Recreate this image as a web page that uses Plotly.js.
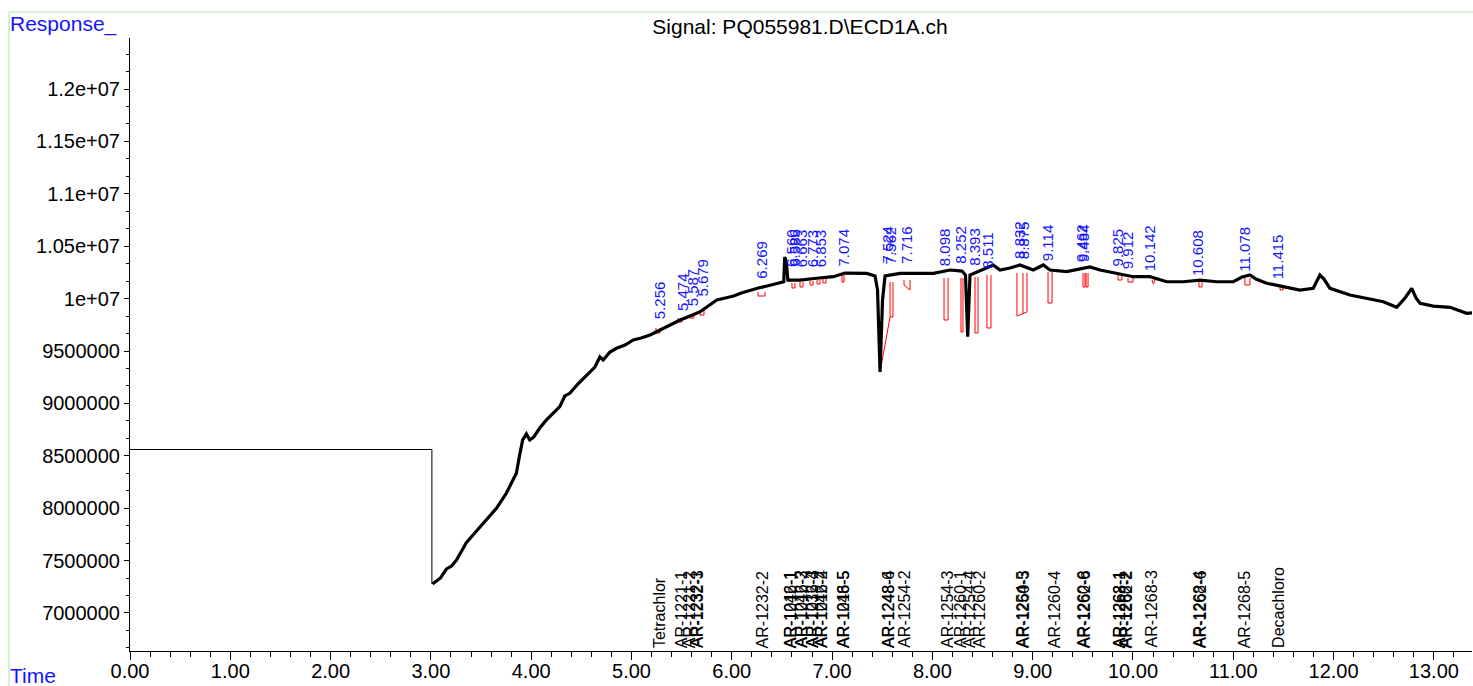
<!DOCTYPE html>
<html>
<head>
<meta charset="utf-8">
<script src="https://cdn.plot.ly/plotly-3.0.1.min.js"></script>
<style>
  html, body { margin: 0; padding: 0; background: #fff; }
  #chart { width: 1473px; height: 686px; }
</style>
</head>
<body>
<div id="chart"></div>
<script>
// ECD detector trace (retention time in minutes, response counts)
const signalTime = [0, 3.01, 3.016, 3.046, 3.096, 3.156, 3.206, 3.256, 3.353, 3.446, 3.553, 3.656, 3.752, 3.805,
  3.852, 3.885, 3.915, 3.952, 3.985, 4.025, 4.085, 4.152, 4.215, 4.285, 4.335, 4.385, 4.465, 4.552, 4.635,
  4.685, 4.718, 4.785, 4.851, 4.935, 5.018, 5.095, 5.185, 5.285, 5.385, 5.485, 5.585, 5.685, 5.765, 5.851,
  5.935, 6.018, 6.095, 6.185, 6.265, 6.352, 6.435, 6.518, 6.528, 6.544, 6.559, 6.68, 6.847, 7.013, 7.128,
  7.212, 7.345, 7.428, 7.453, 7.478, 7.503, 7.528, 7.677, 7.844, 8.01, 8.176, 8.295, 8.33, 8.352, 8.375,
  8.507, 8.607, 8.674, 8.773, 8.873, 9.006, 9.106, 9.172, 9.339, 9.505, 9.571, 9.671, 9.838, 10.004, 10.17,
  10.336, 10.502, 10.668, 10.835, 11.0, 11.087, 11.166, 11.226, 11.333, 11.498, 11.664, 11.797, 11.864,
  11.904, 11.964, 12.163, 12.33, 12.496, 12.629, 12.712, 12.779, 12.822, 12.862, 12.995, 13.161, 13.328, 13.38];
const signalResp = [8.560e6, 8.560e6, 7.277e6, 7.296e6, 7.334e6, 7.420e6, 7.448e6, 7.506e6, 7.671e6, 7.773e6,
  7.887e6, 8.002e6, 8.142e6, 8.240e6, 8.333e6, 8.508e6, 8.651e6, 8.708e6, 8.651e6, 8.679e6, 8.765e6, 8.842e6,
  8.899e6, 8.969e6, 9.071e6, 9.096e6, 9.185e6, 9.271e6, 9.347e6, 9.443e6, 9.414e6, 9.490e6, 9.526e6, 9.557e6,
  9.605e6, 9.624e6, 9.653e6, 9.700e6, 9.748e6, 9.796e6, 9.834e6, 9.875e6, 9.929e6, 9.987e6, 10.006e6,
  10.025e6, 10.053e6, 10.082e6, 10.101e6, 10.120e6, 10.139e6, 10.161e6, 10.397e6, 10.349e6, 10.177e6,
  10.177e6, 10.194e6, 10.209e6, 10.244e6, 10.241e6, 10.241e6, 10.216e6, 10.082e6, 9.300e6, 9.987e6,
  10.216e6, 10.241e6, 10.241e6, 10.241e6, 10.273e6, 10.263e6, 10.225e6, 9.636e6, 10.225e6, 10.280e6,
  10.321e6, 10.273e6, 10.292e6, 10.321e6, 10.273e6, 10.321e6, 10.273e6, 10.257e6, 10.289e6, 10.302e6,
  10.273e6, 10.241e6, 10.209e6, 10.209e6, 10.161e6, 10.161e6, 10.177e6, 10.161e6, 10.161e6, 10.206e6,
  10.225e6, 10.187e6, 10.146e6, 10.114e6, 10.082e6, 10.098e6, 10.225e6, 10.187e6, 10.098e6, 10.034e6,
  10.003e6, 9.970e6, 9.917e6, 10.006e6, 10.098e6, 10.006e6, 9.955e6, 9.929e6, 9.917e6, 9.860e6, 9.863e6];

// Integration baseline / drop-line events (null separates events)
const markTime = [
  5.244, 5.244, 5.284, 5.284, null,
  5.464, 5.464, 5.504, 5.504, null,
  5.583, 5.583, 5.623, 5.623, null,
  5.683, 5.683, 5.723, 5.723, null,
  6.261, 6.261, 6.331, 6.331, null,
  6.600, 6.600, 6.630, 6.630, null,
  6.680, 6.680, 6.710, 6.710, null,
  6.780, 6.780, 6.810, 6.810, null,
  6.850, 6.850, 6.879, 6.879, null,
  6.909, 6.909, 6.939, 6.939, null,
  7.099, 7.099, 7.119, 7.119, null,
  7.478, 7.578, 7.578, null, 7.607, 7.607, 7.578, null,
  7.717, 7.717, 7.777, 7.777, null,
  8.116, 8.116, 8.156, 8.156, null,
  8.285, 8.285, 8.305, 8.305, null,
  8.425, 8.425, 8.455, 8.455, null,
  8.544, 8.544, 8.584, 8.584, null,
  8.843, 8.843, 8.943, 8.943, null, 8.903, 8.903, null,
  9.153, 9.153, 9.193, 9.193, null,
  9.502, 9.502, 9.522, 9.522, null, 9.532, 9.532, 9.552, 9.552, null,
  9.851, 9.851, 9.890, 9.890, null,
  9.950, 9.950, 10.000, 10.000, null,
  10.189, 10.204, 10.219, null,
  10.658, 10.658, 10.688, 10.688, null,
  11.116, 11.116, 11.166, 11.166, null,
  11.466, 11.466, 11.496, 11.496];
const markResp = [
  9.7194e6, 9.6717e6, 9.6717e6, 9.7194e6, null,
  9.8148e6, 9.7767e6, 9.7767e6, 9.8148e6, null,
  9.8530e6, 9.8148e6, 9.8148e6, 9.8530e6, null,
  9.8912e6, 9.8434e6, 9.8434e6, 9.8912e6, null,
  10.0629e6, 10.0248e6, 10.0248e6, 10.0629e6, null,
  10.1489e6, 10.1011e6, 10.1011e6, 10.1489e6, null,
  10.1584e6, 10.1107e6, 10.1107e6, 10.1584e6, null,
  10.1679e6, 10.1298e6, 10.1298e6, 10.1679e6, null,
  10.1775e6, 10.1393e6, 10.1393e6, 10.1775e6, null,
  10.1870e6, 10.1489e6, 10.1489e6, 10.1870e6, null,
  10.2252e6, 10.1584e6, 10.1584e6, 10.2252e6, null,
  9.2996e6, 9.8243e6, 10.1584e6, null, 10.1584e6, 9.8243e6, 9.8243e6, null,
  10.1775e6, 10.1298e6, 10.0820e6, 10.1775e6, null,
  10.1966e6, 9.7957e6, 9.7957e6, 10.1966e6, null,
  10.1966e6, 9.6813e6, 9.6813e6, 10.1966e6, null,
  10.2061e6, 9.6717e6, 9.6717e6, 10.2061e6, null,
  10.2252e6, 9.7194e6, 9.7194e6, 10.2252e6, null,
  10.2443e6, 9.8339e6, 9.8721e6, 10.2443e6, null, 10.2443e6, 9.8625e6, null,
  10.2538e6, 9.9580e6, 9.9580e6, 10.2538e6, null,
  10.2443e6, 10.1107e6, 10.1107e6, 10.2443e6, null, 10.2443e6, 10.1107e6, 10.1107e6, 10.2443e6, null,
  10.2252e6, 10.1775e6, 10.1775e6, 10.2252e6, null,
  10.1966e6, 10.1584e6, 10.1584e6, 10.1966e6, null,
  10.1775e6, 10.1393e6, 10.1775e6, null,
  10.1584e6, 10.1107e6, 10.1107e6, 10.1584e6, null,
  10.1966e6, 10.1298e6, 10.1298e6, 10.1966e6, null,
  10.1298e6, 10.0820e6, 10.0820e6, 10.1298e6];

// Integrated peaks: retention time and the response at which its label starts
const peakRT = [5.256, 5.474, 5.587, 5.679, 6.269, 6.560, 6.586, 6.663, 6.773, 6.853, 7.074, 7.524, 7.562,
  7.716, 8.098, 8.252, 8.393, 8.511, 8.832, 8.875, 9.114, 9.462, 9.484, 9.825, 9.912, 10.142, 10.608,
  11.078, 11.415];
const peakLabelResp = [9.796e6, 9.872e6, 9.920e6, 10.006e6, 10.178e6, 10.292e6, 10.292e6, 10.292e6,
  10.292e6, 10.292e6, 10.292e6, 10.321e6, 10.321e6, 10.321e6, 10.302e6, 10.321e6, 10.302e6, 10.273e6,
  10.368e6, 10.368e6, 10.349e6, 10.340e6, 10.340e6, 10.302e6, 10.273e6, 10.254e6, 10.206e6, 10.244e6,
  10.178e6];

// Expected compound windows
const compoundName = ["Tetrachlor", "AR-1221-1", "AR-1221-2", "AR-1232-1", "AR-1232-3", "AR-1232-2",
  "AR-1016-1", "AR-1242-1", "AR-1016-2", "AR-1242-3", "AR-1016-3", "AR-1232-4", "AR-1016-4", "AR-1242-2",
  "AR-1016-5", "AR-1248-5", "AR-1248-4", "AR-1248-6", "AR-1254-2", "AR-1254-3", "AR-1260-1", "AR-1254-4",
  "AR-1260-2", "AR-1254-5", "AR-1260-3", "AR-1260-4", "AR-1260-6", "AR-1262-8", "AR-1268-1", "AR-1262-1",
  "AR-1268-2", "AR-1262-2", "AR-1268-3", "AR-1268-4", "AR-1262-6", "AR-1268-5", "Decachloro"];
const compoundRT = [5.28, 5.50, 5.58, 5.645, 5.655, 6.31,
  6.585, 6.59, 6.69, 6.695, 6.80, 6.805, 6.89, 6.895,
  7.11, 7.115, 7.56, 7.565, 7.72, 8.15, 8.28, 8.37,
  8.47, 8.90, 8.905, 9.22, 9.51, 9.515, 9.865, 9.87,
  9.93, 9.935, 10.18, 10.665, 10.67, 11.115, 11.45];

const yTickVals = [7e6, 7.5e6, 8e6, 8.5e6, 9e6, 9.5e6, 1e7, 1.05e7, 1.1e7, 1.15e7, 1.2e7];
const yTickText = ["7000000", "7500000", "8000000", "8500000", "9000000", "9500000",
  "1e+07", "1.05e+07", "1.1e+07", "1.15e+07", "1.2e+07"];
const xTickVals = [0, 1, 2, 3, 4, 5, 6, 7, 8, 9, 10, 11, 12, 13];
const xTickText = ["0.00", "1.00", "2.00", "3.00", "4.00", "5.00", "6.00", "7.00", "8.00", "9.00",
  "10.00", "11.00", "12.00", "13.00"];

const FONT = "Arial, 'Liberation Sans', sans-serif";
const BLUE = "#1414ff";
const FRAME = "#9ee89e";

// plot-area geometry in pixels, used to place the outer labels and frame
const W = 1473, H = 686, ML = 130, MR = 1, MT = 38, MB = 35;
const pw = W - ML - MR, ph = H - MT - MB;
const px = x => (x - ML) / pw;
const py = y => (H - MB - y) / ph;

const traces = [
  { x: markTime, y: markResp, type: "scatter", mode: "lines", connectgaps: false,
    line: { color: "#ff0000", width: 1 }, hoverinfo: "skip" },
  // level before the detector run starts
  { x: signalTime.slice(0, 2), y: signalResp.slice(0, 2), type: "scatter", mode: "lines",
    line: { color: "#000000", width: 1 }, hoverinfo: "skip" },
  // step down at the start of the run
  { x: [signalTime[1], signalTime[1]], y: [signalResp[1], signalResp[2]], type: "scatter", mode: "lines",
    line: { color: "#000000", width: 1 }, hoverinfo: "skip" },
  // chromatogram
  { x: signalTime.slice(2), y: signalResp.slice(2), type: "scatter", mode: "lines",
    line: { color: "#000000", width: 3.2 }, hoverinfo: "skip" }
];

const annotations = [];
peakRT.forEach((t, i) => {
  annotations.push({
    x: t, y: peakLabelResp[i], xref: "x", yref: "y", text: t.toFixed(3),
    textangle: -90, showarrow: false, xanchor: "center", yanchor: "bottom", xshift: 3,
    font: { family: FONT, size: 15, color: BLUE }, borderpad: 0
  });
});
compoundName.forEach((name, i) => {
  annotations.push({
    x: compoundRT[i], y: py(649), xref: "x", yref: "paper", text: name,
    textangle: -90, showarrow: false, xanchor: "center", yanchor: "bottom",
    font: { family: FONT, size: 16, color: "#000000" }, borderpad: 0
  });
});
annotations.push({
  x: px(9), y: py(24), xref: "paper", yref: "paper", text: "Response_", showarrow: false,
  xanchor: "left", yanchor: "middle", font: { family: FONT, size: 21, color: BLUE }, borderpad: 0
});
annotations.push({
  x: px(9), y: py(675), xref: "paper", yref: "paper", text: "Time", showarrow: false,
  xanchor: "left", yanchor: "middle", font: { family: FONT, size: 21, color: BLUE }, borderpad: 0
});

const layout = {
  width: W, height: H,
  margin: { l: ML, r: MR, t: MT, b: MB, pad: 0 },
  paper_bgcolor: "#ffffff", plot_bgcolor: "#ffffff",
  showlegend: false,
  font: { family: FONT, size: 20, color: "#000000" },
  title: {
    text: "Signal: PQ055981.D\\ECD1A.ch", xref: "container", yref: "container",
    x: 800 / W, y: 1 - 27 / H, xanchor: "center", yanchor: "middle",
    font: { family: FONT, size: 21, color: "#000000" }
  },
  xaxis: {
    range: [0, 13.38], showgrid: false, zeroline: false,
    showline: true, linecolor: "#000000", linewidth: 1,
    ticks: "outside", ticklen: 8, tickcolor: "#000000", tickwidth: 1,
    tickmode: "array", tickvals: xTickVals, ticktext: xTickText,
    ticklabelstandoff: -6,
    tickfont: { family: FONT, size: 20, color: "#000000" },
    minor: { dtick: 0.2, ticks: "outside", ticklen: 5, tickcolor: "#000000", showgrid: false }
  },
  yaxis: {
    range: [6.637e6, 12.487e6], showgrid: false, zeroline: false,
    showline: true, linecolor: "#000000", linewidth: 1,
    ticks: "outside", ticklen: 5, tickcolor: "#000000", tickwidth: 1,
    tickmode: "array", tickvals: yTickVals, ticktext: yTickText,
    tickfont: { family: FONT, size: 20, color: "#000000" },
    minor: { tickmode: "linear", tick0: 7e6, dtick: 5e5 / 3, ticks: "outside", ticklen: 3,
      tickcolor: "#000000", showgrid: false }
  },
  annotations: annotations,
  shapes: [
    { type: "line", xref: "paper", yref: "paper", x0: px(9), x1: px(1473), y0: py(12), y1: py(12),
      line: { color: FRAME, width: 1 } },
    { type: "line", xref: "paper", yref: "paper", x0: px(9), x1: px(9), y0: py(12), y1: py(686),
      line: { color: FRAME, width: 1 } }
  ]
};

Plotly.newPlot("chart", traces, layout, { staticPlot: true, displayModeBar: false });
</script>
</body>
</html>
